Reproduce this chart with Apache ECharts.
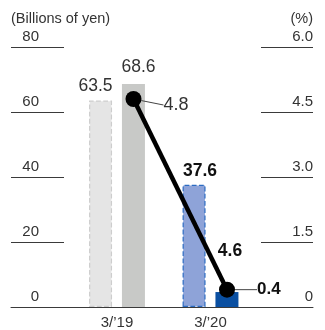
<!DOCTYPE html>
<html>
<head>
<meta charset="utf-8">
<script src="https://cdn.jsdelivr.net/npm/echarts@6/dist/echarts.min.js"></script>
<style>
  html, body { margin: 0; padding: 0; background: #fff; }
  #chart { width: 325px; height: 330px; }
</style>
</head>
<body>
<div id="chart"></div>
<script>
// Fiscal year-ends shown on the category axis
const categories = ['3/\u201919', '3/\u201920'];
// Billions of yen: forecast (dashed) and actual bars
const forecastValues = [63.5, 37.6];
const actualValues = [68.6, 4.6];
// Percent, plotted against the right-hand axis
const ratioValues = [4.8, 0.4];
// Axis tick labels
const leftTicks = ['0', '20', '40', '60', '80'];
const rightTicks = ['0', '1.5', '3.0', '4.5', '6.0'];

const FONT = '"Liberation Sans", Arial, Helvetica, sans-serif';
const TEXT = '#333333';
const RULE = '#3a3a3a';

const forecastStyles = [
  { color: '#e5e5e5', borderColor: '#cdcdcd', borderType: 'dashed', borderWidth: 1.2 },
  { color: '#8ea3d8', borderColor: '#2c6cc2', borderType: 'dashed', borderWidth: 1.2 }
];
const actualStyles = [
  { color: '#c8c9c7' },
  { color: '#0a4fa1' }
];
const forecastLabels = [
  { offset: [-5, 0], fontWeight: 'normal', color: TEXT },
  { offset: [6, 0], fontWeight: 'bold', color: '#111' }
];
const actualLabels = [
  { offset: [5, -3], fontWeight: 'normal', color: TEXT },
  { offset: [3, -2], distance: 30, fontWeight: 'bold', color: '#111' }
];
const ratioLabels = [
  { fontWeight: 'normal', color: TEXT, fontSize: 18 },
  { fontWeight: 'bold', color: '#111', fontSize: 17 }
];

const chart = echarts.init(document.getElementById('chart'), null, { renderer: 'canvas' });

const plotTop = 47, plotBottom = 23;
const option = {
  animation: false,
  textStyle: { fontFamily: FONT },
  grid: [
    // bars
    { left: 70.25, right: 67.75, top: plotTop, bottom: plotBottom },
    // ratio line, shifted onto the centre of the actual bars
    { left: 86.75, right: 51.25, top: plotTop, bottom: plotBottom },
    // full-width frame carrying the scales and baseline
    { left: 11, right: 12, top: plotTop, bottom: plotBottom }
  ],
  xAxis: [
    {
      gridIndex: 0, type: 'category', data: categories,
      axisLine: { show: false }, axisTick: { show: false },
      axisLabel: { color: TEXT, fontSize: 15, margin: 8, fontFamily: FONT }
    },
    {
      gridIndex: 1, type: 'category', data: categories, show: false
    },
    {
      gridIndex: 2, type: 'value', min: 0, max: 1,
      axisLine: { show: true, lineStyle: { color: RULE, width: 1 } },
      axisTick: { show: false }, axisLabel: { show: false }, splitLine: { show: false }
    }
  ],
  yAxis: [
    { gridIndex: 0, type: 'value', min: 0, max: 80, show: false },
    { gridIndex: 1, type: 'value', min: 0, max: 6, show: false },
    {
      gridIndex: 2, type: 'value', min: 0, max: 80, interval: 20, position: 'left',
      name: '(Billions of yen)', nameLocation: 'end', nameGap: 21,
      nameTextStyle: { align: 'left', color: TEXT, fontSize: 14.5, fontFamily: FONT },
      axisLine: { show: false },
      axisTick: { show: true, inside: true, length: 53, lineStyle: { color: RULE, width: 1 } },
      axisLabel: {
        inside: true, margin: 28, align: 'right', verticalAlign: 'bottom',
        padding: [0, 0, 3, 0], color: TEXT, fontSize: 15, fontFamily: FONT,
        formatter: (v) => leftTicks[Math.round(v / 20)]
      },
      splitLine: { show: false }
    },
    {
      gridIndex: 2, type: 'value', min: 0, max: 6, interval: 1.5, position: 'right',
      name: '(%)', nameLocation: 'end', nameGap: 21,
      nameTextStyle: { align: 'right', color: TEXT, fontSize: 14.5, fontFamily: FONT },
      axisLine: { show: false },
      axisTick: { show: true, inside: true, length: 52, lineStyle: { color: RULE, width: 1 } },
      axisLabel: {
        inside: true, margin: 0, align: 'right', verticalAlign: 'bottom',
        padding: [0, 0, 3, 0], color: TEXT, fontSize: 15, fontFamily: FONT,
        formatter: (v) => rightTicks[Math.round(v / 1.5)]
      },
      splitLine: { show: false }
    }
  ],
  series: [
    {
      type: 'bar', xAxisIndex: 0, yAxisIndex: 0,
      barWidth: 23, barGap: '43%',
      label: { show: true, position: 'top', distance: 5, fontSize: 17.5, fontFamily: FONT },
      data: forecastValues.map((v, i) => ({
        value: v, itemStyle: forecastStyles[i], label: forecastLabels[i]
      }))
    },
    {
      type: 'bar', xAxisIndex: 0, yAxisIndex: 0,
      barWidth: 23, barGap: '43%',
      label: { show: true, position: 'top', distance: 5, fontSize: 17.5, fontFamily: FONT },
      data: actualValues.map((v, i) => ({
        value: v, itemStyle: actualStyles[i], label: actualLabels[i]
      }))
    },
    {
      type: 'line', xAxisIndex: 1, yAxisIndex: 1, z: 5,
      symbol: 'circle', symbolSize: 16,
      itemStyle: { color: '#000' },
      lineStyle: { color: '#000', width: 4.5 },
      label: { show: true, position: 'right', distance: 22, fontFamily: FONT },
      labelLine: { show: true, lineStyle: { color: '#444', width: 1 } },
      labelLayout: (p) => p.dataIndex === 0 ? { dy: 6 } : { dx: 0 },
      data: ratioValues.map((v, i) => ({ value: v, label: ratioLabels[i] }))
    }
  ]
};
chart.setOption(option);
</script>
</body>
</html>
